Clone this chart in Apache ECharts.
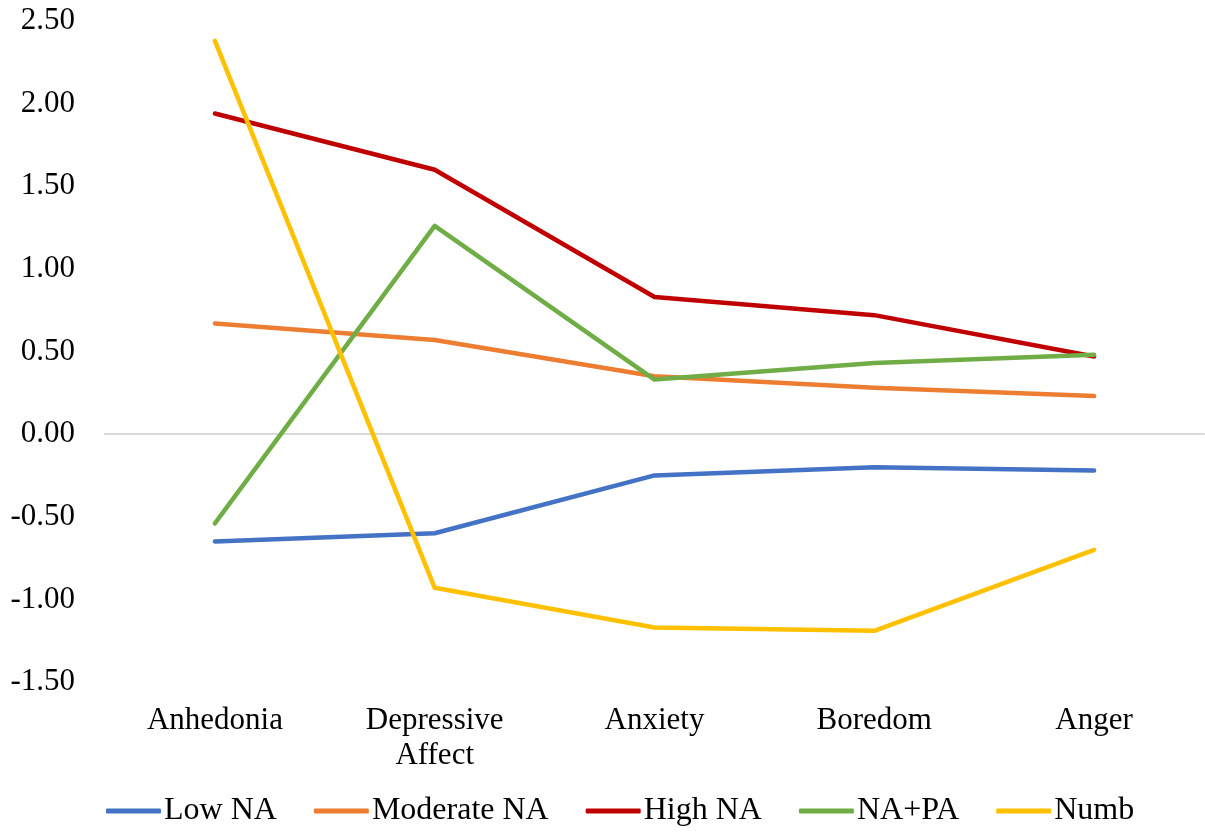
<!DOCTYPE html>
<html>
<head>
<meta charset="utf-8">
<script src="https://cdn.jsdelivr.net/npm/echarts@6/dist/echarts.min.js"></script>
<style>html,body{margin:0;padding:0;background:#fff}#c{width:1205px;height:832px}</style>
</head>
<body>
<div id="c"></div>
<script>
const categories = ['Anhedonia', 'Depressive\nAffect', 'Anxiety', 'Boredom', 'Anger'];
const lowNA = [-0.65, -0.60, -0.25, -0.20, -0.22];
const moderateNA = [0.67, 0.57, 0.35, 0.28, 0.23];
const highNA = [1.94, 1.60, 0.83, 0.72, 0.47];
const naPA = [-0.54, 1.26, 0.33, 0.43, 0.48];
const numb = [2.38, -0.93, -1.17, -1.19, -0.70];
const yTicks = { min: -1.5, max: 2.5, interval: 0.5 };

const font = 'Liberation Serif, "Times New Roman", serif';
function mk(name, data, color) {
  return { name, type: 'line', data, symbol: 'none', smooth: false,
    lineStyle: { color, width: 4.5, cap: 'round', join: 'round' }, itemStyle: { color } };
}
const chart = echarts.init(document.getElementById('c'));
chart.setOption({
  animation: false,
  backgroundColor: '#fff',
  grid: { left: 105, right: 1, top: 21, bottom: 150, containLabel: false },
  xAxis: {
    type: 'category', data: categories, boundaryGap: true,
    axisLine: { show: true, onZero: true, lineStyle: { color: '#d9d9d9', width: 2 } },
    axisTick: { show: false },
    axisLabel: { fontFamily: font, fontSize: 31, color: '#000', lineHeight: 35, margin: 21, interval: 0 },
    position: 'bottom'
  },
  yAxis: {
    type: 'value', min: yTicks.min, max: yTicks.max, interval: yTicks.interval,
    axisLine: { show: false }, axisTick: { show: false }, splitLine: { show: false },
    axisLabel: { fontFamily: font, fontSize: 31, color: '#000', margin: 30,
      formatter: v => v.toFixed(2) }
  },
  legend: {
    bottom: 0, left: 101, icon: 'roundRect', itemWidth: 55, itemHeight: 5, itemGap: 37,
    textStyle: { fontFamily: font, fontSize: 32, color: '#000', padding: [0,0,0,-2] },
    data: ['Low NA', 'Moderate NA', 'High NA', 'NA+PA', 'Numb']
  },
  series: [
    mk('Low NA', lowNA, '#4472C4'),
    mk('Moderate NA', moderateNA, '#ED7D31'),
    mk('High NA', highNA, '#C00000'),
    mk('NA+PA', naPA, '#70AD47'),
    mk('Numb', numb, '#FFC000')
  ]
});
</script>
</body>
</html>
